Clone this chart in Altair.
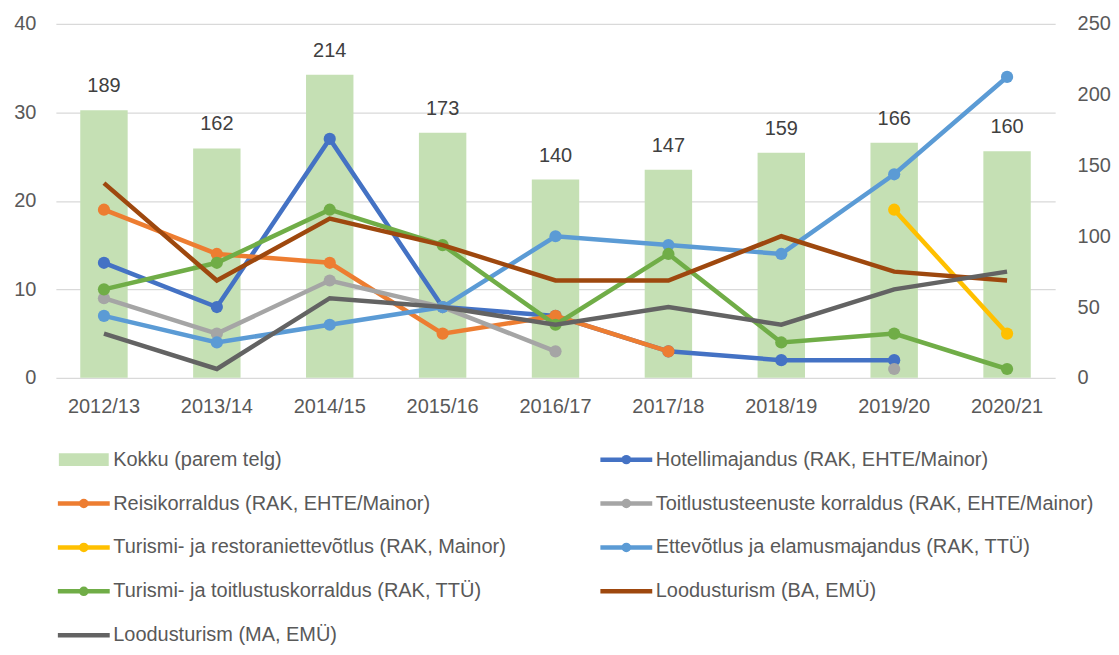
import altair as alt
import pandas as pd

years = ["2012/13", "2013/14", "2014/15", "2015/16", "2016/17",
         "2017/18", "2018/19", "2019/20", "2020/21"]
totals = [189, 162, 214, 173, 140, 147, 159, 166, 160]

total_name = "Kokku (parem telg)"
total_color = "#C5E0B4"

series_names = [
    "Hotellimajandus (RAK, EHTE/Mainor)",
    "Reisikorraldus (RAK, EHTE/Mainor)",
    "Toitlustusteenuste korraldus (RAK, EHTE/Mainor)",
    "Turismi- ja restoraniettevõtlus (RAK, Mainor)",
    "Ettevõtlus ja elamusmajandus (RAK, TTÜ)",
    "Turismi- ja toitlustuskorraldus (RAK, TTÜ)",
    "Loodusturism (BA, EMÜ)",
    "Loodusturism (MA, EMÜ)",
]
hotel = [13, 8, 27, 8, 7, 3, 2, 2, None]
reisi = [19, 14, 13, 5, 7, 3, None, None, None]
toitlustus = [9, 5, 11, 8, 3, None, None, 1, None]
restorani = [None, None, None, None, None, None, None, 19, 5]
ettevotlus = [7, 4, 6, 8, 16, 15, 14, 23, 34]
turismi_toitl = [10, 13, 19, 15, 6, 14, 4, 5, 1]
loodus_ba = [22, 11, 18, 15, 11, 11, 16, 12, 11]
loodus_ma = [5, 1, 9, 8, 6, 8, 6, 10, 12]
series_values = [hotel, reisi, toitlustus, restorani, ettevotlus,
                 turismi_toitl, loodus_ba, loodus_ma]
series_colors = ["#4472C4", "#ED7D31", "#A5A5A5", "#FFC000",
                 "#5B9BD5", "#70AD47", "#9E480E", "#636363"]
series_markers = [True, True, True, True, True, True, False, False]

FONT = "Liberation Sans"
TXT = "#595959"
W, H = 1002, 355

# ---------- bars (right axis) ----------
bar_df = pd.DataFrame({"year": years, "total": totals})
x_enc = alt.X(
    "year:N", sort=years,
    scale=alt.Scale(paddingInner=0.58, paddingOuter=0.216),
    axis=alt.Axis(title=None, labelAngle=0, labelFontSize=20, labelColor=TXT,
                  labelFont=FONT, labelPadding=19, ticks=False, domain=False,
                  grid=False),
)
bars = alt.Chart(bar_df).mark_bar(color=total_color).encode(
    x=x_enc,
    y=alt.Y("total:Q", scale=alt.Scale(domain=[0, 250]),
            axis=alt.Axis(orient="right", title=None,
                          values=[0, 50, 100, 150, 200, 250], grid=False,
                          ticks=False, domain=False, labelFontSize=20,
                          labelColor=TXT, labelFont=FONT, labelPadding=22)),
)
bar_text = bars.mark_text(baseline="bottom", dy=-14, fontSize=20,
                          color="#404040", font=FONT).encode(text="total:Q")
bar_layer = alt.layer(bars, bar_text)

# ---------- lines (left axis) ----------
rows = []
for name, vals in zip(series_names, series_values):
    seg = 0
    prev = None
    for yr, v in zip(years, vals):
        if v is None:
            if prev is not None:
                seg += 1
            prev = None
            continue
        rows.append({"series": name, "year": yr, "value": v, "seg": seg})
        prev = v
line_df = pd.DataFrame(rows)

y_left = alt.Y("value:Q", scale=alt.Scale(domain=[0, 40]),
               axis=alt.Axis(title=None, values=[0, 10, 20, 30, 40],
                             grid=True, gridColor="#D9D9D9", gridWidth=1.3,
                             ticks=False, domain=False, labelFontSize=20,
                             labelColor=TXT, labelFont=FONT, labelPadding=20))

line_layers = []
for name, color, mk in zip(series_names, series_colors, series_markers):
    base = alt.Chart(line_df).transform_filter(alt.datum.series == name)
    line_layers.append(
        base.mark_line(color=color, strokeWidth=4.5).encode(
            x=alt.X("year:N", sort=years), y=y_left, detail="seg:N"))
    if mk:
        line_layers.append(
            base.mark_point(color=color, filled=True, size=150, opacity=1).encode(
                x=alt.X("year:N", sort=years), y=y_left))
lines = alt.layer(*line_layers)

main = alt.layer(bar_layer, lines).resolve_scale(y="independent").properties(
    width=W, height=H)

# ---------- legend ----------
leg_labels = [total_name] + series_names
leg_colors = [total_color] + series_colors
leg_kind = ["bar"] + ["marker" if m else "line" for m in series_markers]
leg_df = pd.DataFrame({
    "label": leg_labels,
    "color": leg_colors,
    "kind": leg_kind,
    "col": [i % 2 for i in range(len(leg_labels))],
    "row": [i // 2 for i in range(len(leg_labels))],
})
LW, LH = 1050, 199
lx = alt.X("col:Q", scale=alt.Scale(domain=[0, 1], range=[28, 572]), axis=None)
lx2 = alt.X2("col:Q")
ly = alt.Y("row:Q", scale=alt.Scale(domain=[0, 4], range=[12, 188]), axis=None)
ly2 = alt.Y2("row:Q")
lbase = alt.Chart(leg_df)
leg_rect = lbase.transform_filter(alt.datum.kind == "bar").mark_rect(
    xOffset=-25, x2Offset=25, yOffset=-6.5, y2Offset=6.5, clip=True).encode(
    x=lx, x2=lx2, y=ly, y2=ly2, color=alt.Color("color:N", scale=None))
leg_rule = lbase.transform_filter(alt.datum.kind != "bar").mark_rule(
    strokeWidth=4.5, xOffset=-26, x2Offset=26, clip=True).encode(
    x=lx, x2=lx2, y=ly, color=alt.Color("color:N", scale=None))
leg_pt = lbase.transform_filter(alt.datum.kind == "marker").mark_point(
    filled=True, size=90, opacity=1, clip=True).encode(
    x=lx, y=ly, color=alt.Color("color:N", scale=None))
leg_txt = lbase.mark_text(align="left", baseline="middle", dx=29.5,
                          fontSize=20, font=FONT, color=TXT, clip=True).encode(
    x=lx, y=ly, text="label:N")
legend = alt.layer(leg_rect, leg_rule, leg_pt, leg_txt).properties(
    width=LW, height=LH)

chart = alt.vconcat(main, legend, spacing=31).properties(
    padding={"left": 5, "top": 5, "right": 0, "bottom": 0},
    background="white",
).configure_view(strokeWidth=0, stroke=None)

chart.save("out.html", embed_options={"renderer": "svg", "actions": False})
